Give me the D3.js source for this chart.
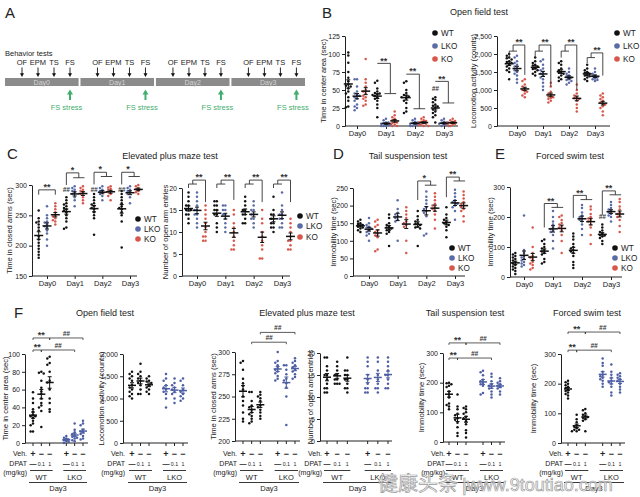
<!DOCTYPE html>
<html><head><meta charset="utf-8">
<script src="https://cdn.jsdelivr.net/npm/d3@7"></script>
<style>
body{margin:0;background:#fff}
svg{display:block;font-family:'Liberation Sans',Arial,sans-serif}
</style>
</head><body>
<svg width="640" height="497"></svg>
<script>
// ---------------- DATA ----------------
const days = ["Day0","Day1","Day2","Day3"];
const groups = ["WT","LKO","KO"];
const tests = ["OF","EPM","TS","FS"];

// B: Open field - time in center area (sec)
const ofCenterWT = [
 [102,98,88,75,67,62,58,56,55,52,48,45,40,35,27,26],
 [63,60,52,48,46,45,44,43,42,40,38,35,30,25,12],
 [62,60,50,46,43,42,41,40,38,35,32,25,20,18],
 [40,38,36,33,30,28,27,25,23,20,18,15,12,5]];
const ofCenterLKO = [
 [65,65,55,48,45,43,42,40,38,35,30,27,25,22],
 [10,8,5,5,4,3,2,2,1,0,0,0],
 [10,8,6,5,4,3,2,2,1,0,0],
 [10,8,6,5,4,3,2,1,0,0]];
const ofCenterKO = [
 [93,65,60,55,50,48,45,42,40,38,35,30,28],
 [20,15,12,10,8,6,5,4,3,2,0,0],
 [12,10,8,7,6,5,4,3,2,1,0,0],
 [10,8,7,6,5,4,3,2,1,0]];
const ofCenterTicks = [0,25,50,75,100,125];
const ofCenterSig = [
 {day:"Day1",type:"L",top:87,wtBottom:87,sub:45,label:"**"},
 {day:"Day2",type:"L",top:72,wtBottom:72,sub:24,label:"**"},
 {day:"Day3",type:"L",top:62,wtBottom:62,sub:32,label:"**"}];
const ofCenterHash = [{day:"Day3",group:"WT",v:52}];

// B: Open field - locomotion activity (counts)
const ofLocoWT = [
 [2000,1950,1900,1880,1850,1800,1780,1750,1700,1650,1600,1550,1500,1300],
 [1900,1800,1750,1700,1680,1650,1600,1580,1550,1500,1450,1400],
 [1800,1750,1700,1600,1550,1500,1480,1450,1400,1350,1300,1250],
 [1700,1600,1550,1500,1480,1450,1420,1400,1380,1350,1300,1250]];
const ofLocoLKO = [
 [1950,1900,1800,1750,1700,1650,1600,1550,1500,1450,1400,1300,1200],
 [1850,1800,1700,1600,1550,1500,1450,1400,1350,1300,1200,1100,1000],
 [1600,1500,1450,1400,1380,1350,1300,1280,1250,1200,1150],
 [1600,1500,1450,1400,1380,1350,1320,1300,1280,1250]];
const ofLocoKO = [
 [1300,1250,1150,1100,1050,1000,980,950,900,850,800],
 [1200,1100,950,900,850,820,800,780,750,700,650],
 [1150,1000,900,850,800,780,750,700,600,500,400],
 [900,850,800,750,700,650,620,600,550,500,400,300]];
const ofLocoTicks = [0,500,1000,1500,2000,2500];
const ofLocoSig = [
 {day:"Day0",type:"R",top:2250,sub:2080,wtBottom:1900,koBottom:1420,label:"**"},
 {day:"Day1",type:"R",top:2250,sub:2080,wtBottom:1900,koBottom:1100,label:"**"},
 {day:"Day2",type:"R",top:2250,sub:2080,wtBottom:1900,koBottom:1000,label:"**"},
 {day:"Day3",type:"R",top:2030,sub:1900,wtBottom:1750,koBottom:1400,label:"**"}];

// C: EPM - time in closed arms (sec)
const epmClosedWT = [
 [258,245,240,238,235,230,225,215,210,205,200,195,190,185,180],
 [280,275,270,268,265,262,260,258,255,250,245,240,230,228],
 [285,280,275,270,268,265,262,260,255,250,245,218],
 [290,285,280,275,270,265,262,260,255,250,240,197]];
const epmClosedLKO = [
 [265,250,245,240,238,235,232,230,225,220,210,200],
 [298,295,292,290,288,285,280,275,265],
 [298,295,292,290,288,285,282,275],
 [298,295,292,290,288,285,280,270]];
const epmClosedKO = [
 [270,265,260,255,250,248,245,242,240,235],
 [298,295,292,290,288,285,280,275,270],
 [298,296,294,292,290,288,285,282,275],
 [300,298,295,293,290,288,285]];
const epmClosedTicks = [150,200,250,300];
const epmClosedSig = [
 {day:"Day0",type:"S",a:"WT",b:"KO",top:292,bottom:284,label:"**"},
 {day:"Day1",type:"L",top:320,wtBottom:300,sub:312,label:"*"},
 {day:"Day2",type:"L",top:321,wtBottom:301,sub:314,label:"*"},
 {day:"Day3",type:"L",top:321,wtBottom:301,sub:314,label:"*"}];
const epmClosedHash = [{day:"Day1",group:"WT",v:293},{day:"Day2",group:"WT",v:293},{day:"Day3",group:"WT",v:293}];

// C: EPM - number of open arm entries
const epmEntriesWT = [
 [19,18,17,16,16,15,15,15,14,14,13,12],
 [17,17,16,16,15,15,14,14,12,11,10],
 [18,17,16,15,15,14,14,13,12,12],
 [18,15,14,14,13,13,12,12,11,11,10]];
const epmEntriesLKO = [
 [19,18,17,16,15,15,14,14,13,12,11],
 [16,16,15,15,14,14,13,12,11,10],
 [17,16,15,15,14,14,13,13,12,11],
 [19,16,15,14,14,13,13,12,11,11]];
const epmEntriesKO = [
 [16,15,14,13,12,11,10,9,9,8,8],
 [15,14,12,11,10,9,8,7,6,6],
 [15,13,12,10,9,8,7,6,4,4],
 [13,12,11,10,9,8,8,7,6,6]];
const epmEntriesTicks = [0,5,10,15,20];
const epmEntriesSig = [
 {day:"Day0",type:"R",top:21.8,sub:20.9,wtBottom:20,koBottom:16.8,label:"**"},
 {day:"Day1",type:"R",top:21.8,sub:20.9,wtBottom:20,koBottom:17.3,label:"**"},
 {day:"Day2",type:"R",top:21.8,sub:20.9,wtBottom:20,koBottom:16.8,label:"**"},
 {day:"Day3",type:"R",top:21.8,sub:20.9,wtBottom:20,koBottom:16.8,label:"**"}];

// D: Tail suspension - immobility time (sec)
const tsImmWT = [
 [160,155,150,148,145,142,140,138,135,130,125],
 [175,165,150,145,140,138,135,132,130,125,120,85],
 [185,170,160,155,150,148,145,140,138,135,85],
 [195,175,165,160,155,150,148,145,140,130,110]];
const tsImmLKO = [
 [165,150,145,140,138,135,130,125,120,115,100],
 [215,190,180,175,170,165,160,155,100],
 [240,225,215,205,195,190,185,180,170,120,115],
 [245,235,225,215,210,208,205,200,195,185,160]];
const tsImmKO = [
 [160,155,145,140,130,125,120,115,110,75,70],
 [195,185,175,165,155,150,145,140,100,65],
 [235,225,215,205,200,195,190,185,175,160,135],
 [240,230,220,210,205,200,195,190,185,170,155]];
const tsImmTicks = [0,50,100,150,200,250];
const tsImmSig = [
 {day:"Day2",type:"L",top:270,wtBottom:216,sub:258,label:"*"},
 {day:"Day3",type:"L",top:281,wtBottom:224,sub:270,label:"**"}];

// E: Forced swim - immobility time (sec)
const fsImmWT = [
 [80,75,70,65,60,55,50,45,40,35,30,25,20,10],
 [125,120,110,100,95,90,85,80,75,60,50,45],
 [145,135,125,110,100,95,90,85,80,70,50,40,30],
 [175,165,155,150,145,140,138,135,130,120,110]];
const fsImmLKO = [
 [205,90,80,70,65,60,55,50,45,40,35],
 [220,200,185,175,165,160,155,150,140,120,95],
 [240,230,215,205,200,195,190,185,175,160,140],
 [250,240,230,225,220,215,210,205,200,185]];
const fsImmKO = [
 [165,100,80,70,65,60,50,45,40,30,25],
 [205,200,190,180,175,170,165,155,140,120,80],
 [235,225,210,200,195,190,185,175,165,140,110],
 [260,250,235,225,215,210,205,200,190,170,150]];
const fsImmTicks = [0,100,200,300];
const fsImmSig = [
 {day:"Day1",type:"L",top:245,wtBottom:165,sub:232,label:"**"},
 {day:"Day2",type:"L",top:272,wtBottom:197,sub:258,label:"**"},
 {day:"Day3",type:"L",top:287,wtBottom:207,sub:274,label:"**"}];
const fsImmHash = [{day:"Day3",group:"WT",v:200}];

// F: Day3, DPAT treatment
const drugGroups = ["WT Veh","WT DPAT 0.1","WT DPAT 1","LKO Veh","LKO DPAT 0.1","LKO DPAT 1"];
const fGenotype = ["WT","WT","WT","LKO","LKO","LKO"];
const fVeh = ["+","−","−","+","−","−"];
const fDpat = ["—","0.1","1","—","0.1","1"];
const fOfCenter = [
 [57,50,45,38,35,32,30,30,28,25,22,20,13,13],
 [80,79,78,70,62,58,55,50,45,42,40,36,18],
 [97,95,90,88,80,70,68,60,50,45,38,35],
 [8,6,5,4,3,2,1,0],
 [22,15,12,10,8,7,6,5,3,2],
 [25,22,20,15,13,12,10,8,5,4]];
const fOfLoco = [
 [1600,1550,1500,1450,1400,1300,1250,1200,1150,1100,1050,1000],
 [1780,1600,1550,1500,1450,1400,1350,1300,1200,1100,1100],
 [1500,1450,1400,1380,1350,1300,1250,1200,1150,1100],
 [1550,1450,1400,1300,1250,1200,1150,1100,1000,800],
 [1450,1350,1300,1250,1200,1150,1100,1000,900],
 [1450,1400,1300,1200,1150,1100,1050,1000,950]];
const fEpmClosed = [
 [290,288,280,270,265,262,258,250,245,240,232,225,222],
 [255,255,245,240,238,235,232,230,228,225,222,220],
 [255,252,250,248,245,240,238,235,232,228,225],
 [300,290,288,285,282,280,278,276,273,270,268],
 [285,285,280,275,270,268,265,260,250,218],
 [293,290,288,285,283,280,278,275,272,270]];
const fEpmEntries = [
 [19,19,17,16,15,15,14,13,12,12,11,11],
 [18,17,16,15,15,14,14,13,13,13],
 [19,16,16,15,15,14,14,13,12,12,11],
 [19,18,17,15,14,13,12,12,11,11],
 [19,18,16,15,14,13,12,12,11],
 [19,18,17,16,15,15,14,13,12,12]];
const fTsImm = [
 [200,198,195,190,185,170,160,150,130,125,120,110],
 [160,120,110,95,90,80,75,65,50,30,20],
 [120,115,110,100,95,85,80,70,60,40,30,15],
 [240,235,225,210,205,200,195,190,165,160],
 [230,220,205,195,190,185,180,170,160,150],
 [215,205,200,195,190,185,180,170,160]];
const fFsImm = [
 [210,205,200,195,190,185,180,175,170,165,160,150],
 [95,80,70,60,55,50,45,45,40,40],
 [115,110,100,95,90,88,85,80,75,40],
 [285,270,260,240,230,225,220,215,210,200,190],
 [265,240,230,220,210,205,200,190,170,160],
 [235,230,225,220,215,210,200,190,180,170]];
const fOfCenterSig = [{a:0,b:2,v:118,label:"**"},{a:2,b:5,v:118,label:"##"},{a:0,b:1,v:104.5,label:"**"},{a:1,b:4,v:104.5,label:"##"}];
const fEpmClosedSig = [{a:2,b:5,v:322,label:"##"},{a:1,b:4,v:311,label:"##"}];
const fTsImmSig = [{a:0,b:2,v:334,label:"**"},{a:2,b:5,v:334,label:"##"},{a:0,b:1,v:283,label:"**"},{a:1,b:4,v:283,label:"##"}];
const fFsImmSig = [{a:0,b:2,v:374,label:"**"},{a:2,b:5,v:374,label:"##"},{a:0,b:1,v:313,label:"**"},{a:1,b:4,v:313,label:"##"}];

// ---------------- DRAWING ----------------
const svg = d3.select("svg");
const COL = {WT:"#111111", LKO:"#5b6ba6", KO:"#d6574c"};
const FCOL = {WT:"#111111", LKO:"#4d5ea3"};
const CJK = "'Noto Sans CJK SC',sans-serif";

function swarm(vals, y, cx, r){
  const sorted = vals.slice().sort((a,b)=>b-a);
  const placed = [];
  const offs = [0,-1,1,-2,2];
  sorted.forEach(v=>{
    const py = y(v);
    let best=null, bestOv=1e9;
    for(const k of offs){
      const px = cx + k*r*1.9;
      let ov = 0;
      placed.forEach(p=>{const d=Math.hypot(p[0]-px,p[1]-py); if(d<2*r*0.95) ov += (2*r-d);});
      if(ov===0){best=[px,py];break;}
      if(ov<bestOv){bestOv=ov;best=[px,py];}
    }
    placed.push(best);
  });
  return placed;
}
function meanSem(g, vals, y, cx, color, hw){
  const m = d3.mean(vals), s = d3.deviation(vals)/Math.sqrt(vals.length);
  g.append("line").attr("x1",cx-hw).attr("x2",cx+hw).attr("y1",y(m)).attr("y2",y(m)).attr("stroke",color).attr("stroke-width",1.5);
  g.append("line").attr("x1",cx).attr("x2",cx).attr("y1",y(m-s)).attr("y2",y(m+s)).attr("stroke",color).attr("stroke-width",1);
  [m-s,m+s].forEach(v=>g.append("line").attr("x1",cx-2).attr("x2",cx+2).attr("y1",y(v)).attr("y2",y(v)).attr("stroke",color).attr("stroke-width",1));
}
function styleAxis(a, fs){
  a.selectAll("text").attr("font-size",fs).attr("font-family","'Liberation Sans',Arial,sans-serif").attr("fill","#222");
  a.selectAll("line,path").attr("stroke","#222");
}
function yLabel(g, x, ymid, txt){
  g.append("text").attr("transform",`translate(${x},${ymid}) rotate(-90)`).attr("text-anchor","middle")
   .attr("dy","0.35em").attr("font-size",7.6).attr("fill","#222").text(txt);
}
function sigText(g, x, yv, label){
  const isHash = label.startsWith("#");
  g.append("text").attr("x",x).attr("y", isHash ? yv-1.2 : yv+1.2).attr("text-anchor","middle")
   .attr("font-size", isHash?6.5:9).attr("font-style",isHash?"italic":"normal").attr("font-weight","bold")
   .attr("fill","#333").text(label);
}

function dayChart(c){
  const g = svg.append("g");
  const x = d3.scalePoint().domain(days).range(c.xr);
  const step = x.step();
  const gx = d3.scalePoint().domain(groups).range([-0.3*step,0.3*step]);
  const y = d3.scaleLinear().domain(c.yd).range(c.yr);
  const ya = g.append("g").attr("transform",`translate(${c.ax},0)`)
    .call(d3.axisLeft(y).tickValues(c.ticks).tickSize(3).tickSizeOuter(0).tickPadding(2));
  styleAxis(ya,7);
  g.append("line").attr("x1",c.ax).attr("x2",c.axEnd).attr("y1",c.yr[0]).attr("y2",c.yr[0]).attr("stroke","#222");
  const xa = g.append("g").attr("transform",`translate(0,${c.yr[0]})`).call(d3.axisBottom(x).tickSize(3).tickPadding(2));
  xa.select(".domain").remove();
  styleAxis(xa,7.5);
  yLabel(g, c.lx, (c.yr[0]+c.yr[1])/2, c.ylabel);
  c.series.forEach((ser,gi)=>{
    const grp = groups[gi];
    days.forEach((d,di)=>{
      const cx = x(d)+gx(grp);
      swarm(ser[di], y, cx, 1.25).forEach(p=>{
        g.append("circle").attr("cx",p[0]).attr("cy",p[1]).attr("r",1.25).attr("fill",COL[grp]);
      });
    });
  });
  c.series.forEach((ser,gi)=>{
    const grp = groups[gi];
    days.forEach((d,di)=> meanSem(g, ser[di], y, x(d)+gx(grp), "#111", 4.5));
  });
  (c.sig||[]).forEach(s=>{
    const cx = x(s.day);
    const xW=cx+gx("WT"), xL=cx+gx("LKO"), xK=cx+gx("KO");
    let d, lx;
    if(s.type==="L"){
      const xm=(xL+xK)/2;
      d=`M${xW},${y(s.wtBottom)}V${y(s.top)}H${xm}V${y(s.sub)}M${xL-1.5},${y(s.sub)}H${xK+1.5}`;
      lx=(xW+xm)/2;
    } else if(s.type==="R"){
      const xm=(xW+xL)/2;
      d=`M${xW},${y(s.wtBottom)}V${y(s.sub)}H${xL}M${xm},${y(s.sub)}V${y(s.top)}H${xK}V${y(s.koBottom)}`;
      lx=(xm+xK)/2;
    } else {
      const xa2=cx+gx(s.a), xb=cx+gx(s.b);
      d=`M${xa2},${y(s.bottom)}V${y(s.top)}H${xb}V${y(s.bottom)}`;
      lx=(xa2+xb)/2;
    }
    g.append("path").attr("d",d).attr("fill","none").attr("stroke","#333").attr("stroke-width",0.9);
    sigText(g, lx, y(s.top)-1, s.label);
  });
  (c.hash||[]).forEach(h=>{
    sigText(g, x(h.day)+gx(h.group), y(h.v)+3.5, "##");
  });
  groups.forEach((grp,i)=>{
    g.append("circle").attr("cx",c.leg[0]).attr("cy",c.leg[1][i]).attr("r",2.8).attr("fill",COL[grp]);
    g.append("text").attr("x",c.leg[0]+6).attr("y",c.leg[1][i]+2.9).attr("font-size",8.2).attr("fill","#222").text(grp);
  });
}

function drugChart(c){
  const g = svg.append("g");
  const x = d3.scalePoint().domain(d3.range(7)).range(c.xr);
  const slot = i => i<3 ? i : i+1;
  const y = d3.scaleLinear().domain(c.yd).range(c.yr);
  const ya = g.append("g").attr("transform",`translate(${c.ax},0)`)
    .call(d3.axisLeft(y).tickValues(c.ticks).tickSize(3).tickSizeOuter(0).tickPadding(2));
  styleAxis(ya,7);
  g.append("line").attr("x1",c.ax).attr("x2",c.axEnd).attr("y1",c.yr[0]).attr("y2",c.yr[0]).attr("stroke","#222");
  drugGroups.forEach((dg,i)=>{
    g.append("line").attr("x1",x(slot(i))).attr("x2",x(slot(i))).attr("y1",c.yr[0]).attr("y2",c.yr[0]+3).attr("stroke","#222");
  });
  yLabel(g, c.lx, (c.yr[0]+c.yr[1])/2, c.ylabel);
  c.series.forEach((vals,i)=>{
    const col = FCOL[fGenotype[i]];
    const cx = x(slot(i));
    swarm(vals, y, cx, 1.25).forEach(p=>{
      g.append("circle").attr("cx",p[0]).attr("cy",p[1]).attr("r",1.25).attr("fill",col);
    });
  });
  c.series.forEach((vals,i)=> meanSem(g, vals, y, x(slot(i)), FCOL[fGenotype[i]], 4));
  (c.sig||[]).forEach(s=>{
    const xa2=x(slot(s.a)), xb=x(slot(s.b)), yy=y(s.v);
    g.append("path").attr("d",`M${xa2},${yy+2}V${yy}H${xb}V${yy+2}`).attr("fill","none").attr("stroke","#333").attr("stroke-width",0.8);
    sigText(g,(xa2+xb)/2, yy-1, s.label);
  });
  const lxr = c.ax+2;
  const rows = [["Veh.",456],["DPAT",466],["(mg/kg)",475]];
  rows.forEach(r=>g.append("text").attr("x",lxr).attr("y",r[1]).attr("text-anchor","end").attr("font-size",7).attr("fill","#222").text(r[0]));
  drugGroups.forEach((dg,i)=>{
    const cx=x(slot(i));
    g.append("text").attr("x",cx).attr("y",456.5).attr("text-anchor","middle").attr("font-size",9).attr("font-weight","bold").attr("fill","#222").text(fVeh[i]);
    const isDash = fDpat[i]==="—";
    g.append("text").attr("x",cx).attr("y",465.5).attr("text-anchor","middle").attr("font-size",isDash?7:5.3).attr("font-weight",isDash?"bold":"normal").attr("fill","#222").text(fDpat[i]);
  });
  ["WT","LKO"].forEach((gn,k)=>{
    const a = x(slot(k*3))-3, b = x(slot(k*3+2))+3;
    g.append("line").attr("x1",a).attr("x2",b).attr("y1",470.5).attr("y2",470.5).attr("stroke","#222").attr("stroke-width",0.9);
    g.append("text").attr("x",(a+b)/2).attr("y",479.5).attr("text-anchor","middle").attr("font-size",7.5).attr("fill","#222").text(gn);
  });
  const a0=x(0)-4, a1=x(6)+4;
  g.append("line").attr("x1",a0).attr("x2",a1).attr("y1",482.5).attr("y2",482.5).attr("stroke","#222").attr("stroke-width",0.9);
  g.append("text").attr("x",(a0+a1)/2).attr("y",490.5).attr("text-anchor","middle").attr("font-size",7.5).attr("fill","#222").text("Day3");
}

function txt(x,y,s,size,opts={}){
  const t=svg.append("text").attr("x",x).attr("y",y).attr("font-size",size).attr("fill",opts.fill||"#222")
    .attr("text-anchor",opts.anchor||"start").text(s);
  if(opts.weight) t.attr("font-weight",opts.weight);
  return t;
}

// ----- Panel A -----
txt(5,18,"A",15);
txt(5,55.5,"Behavior tests",7.5);
const segX = d3.scaleBand().domain(days).range([5,305]).paddingInner(0.025);
days.forEach(d=>{
  const x0 = segX(d), w = segX.bandwidth();
  svg.append("rect").attr("x",x0).attr("y",78).attr("width",w).attr("height",8).attr("fill","#8b8b8b");
  txt(x0+w/2,84.6,d,7,{anchor:"middle",fill:"#d4d4d4"});
  const tx = d3.scalePoint().domain(tests).range([x0+17,x0+65]);
  tests.forEach(t=>{
    const cx = tx(t);
    txt(cx,65,t,7.5,{anchor:"middle"});
    svg.append("line").attr("x1",cx).attr("x2",cx).attr("y1",67.5).attr("y2",74).attr("stroke","#111").attr("stroke-width",0.9);
    svg.append("path").attr("d",`M${cx-2},73.2L${cx+2},73.2L${cx},77Z`).attr("fill","#111");
  });
  const fx = tx("FS");
  svg.append("line").attr("x1",fx).attr("x2",fx).attr("y1",100).attr("y2",93.5).attr("stroke","#3fae6e").attr("stroke-width",2);
  svg.append("path").attr("d",`M${fx-3},94.5L${fx+3},94.5L${fx},89.5Z`).attr("fill","#3fae6e");
  txt(fx-3.5,110,"FS stress",7.5,{anchor:"middle",fill:"#3fae6e"});
});

// ----- Panel B -----
txt(322,17.5,"B",15);
txt(479,15,"Open field test",9,{anchor:"middle"});
dayChart({ax:345,axEnd:458,xr:[357,444],yd:[0,125],yr:[126,36],ticks:ofCenterTicks,lx:323,
  ylabel:"Time in center area (sec)",series:[ofCenterWT,ofCenterLKO,ofCenterKO],sig:ofCenterSig,hash:ofCenterHash,
  leg:[435,[33,46,59]]});
dayChart({ax:497,axEnd:610,xr:[517,595],yd:[0,2500],yr:[126,36],ticks:ofLocoTicks,lx:473,
  ylabel:"Locomotion activity (counts)",series:[ofLocoWT,ofLocoLKO,ofLocoKO],sig:ofLocoSig,
  leg:[617,[33,46,59]]});

// ----- Panel C -----
txt(7,158.5,"C",15);
txt(170,158.5,"Elevated plus maze test",9,{anchor:"middle"});
dayChart({ax:32,axEnd:137,xr:[47,130],yd:[150,300],yr:[276,185],ticks:epmClosedTicks,lx:9,
  ylabel:"Time in closed arms (sec)",series:[epmClosedWT,epmClosedLKO,epmClosedKO],sig:epmClosedSig,hash:epmClosedHash,
  leg:[138,[219,229,239]]});
dayChart({ax:182,axEnd:290,xr:[197,282],yd:[0,20],yr:[276,188],ticks:epmEntriesTicks,lx:165,
  ylabel:"Number of open arm entries",series:[epmEntriesWT,epmEntriesLKO,epmEntriesKO],sig:epmEntriesSig,
  leg:[300,[216,226,237]]});

// ----- Panel D -----
txt(333,158.5,"D",15);
txt(408,159,"Tail suspension test",9,{anchor:"middle"});
dayChart({ax:353,axEnd:465,xr:[369,455],yd:[0,250],yr:[276,188],ticks:tsImmTicks,lx:333,
  ylabel:"Immobility time (sec)",series:[tsImmWT,tsImmLKO,tsImmKO],sig:tsImmSig,
  leg:[452,[248,258,268]]});

// ----- Panel E -----
txt(495,158.5,"E",15);
txt(570,159,"Forced swim test",9,{anchor:"middle"});
dayChart({ax:510,axEnd:622,xr:[524,611],yd:[0,300],yr:[277,187],ticks:fsImmTicks,lx:490,
  ylabel:"Immobility time (sec)",series:[fsImmWT,fsImmLKO,fsImmKO],sig:fsImmSig,hash:fsImmHash,
  leg:[615,[248,258,268]]});

// ----- Panel F -----
txt(14,317.5,"F",15);
txt(105,316,"Open field test",9,{anchor:"middle"});
txt(307,316,"Elevated plus maze test",9,{anchor:"middle"});
txt(465,316,"Tail suspension test",9,{anchor:"middle"});
txt(587,316,"Forced swim test",9,{anchor:"middle"});
drugChart({ax:25,axEnd:88,xr:[33,83],yd:[0,100],yr:[443,354],ticks:[0,20,40,60,80,100],lx:5,
  ylabel:"Time in center area (sec)",series:fOfCenter,sig:fOfCenterSig});
drugChart({ax:123,axEnd:188,xr:[132,183],yd:[0,2000],yr:[443,354],ticks:[0,500,1000,1500,2000],lx:101,
  ylabel:"Locomotion activity (counts)",series:fOfLoco});
drugChart({ax:235,axEnd:300,xr:[243,295],yd:[200,300],yr:[441,352],ticks:[200,225,250,275,300],lx:213,
  ylabel:"Time in closed arms (sec)",series:fEpmClosed,sig:fEpmClosedSig});
drugChart({ax:320,axEnd:392,xr:[327,388],yd:[0,20],yr:[441,353],ticks:[0,5,10,15,20],lx:310,
  ylabel:"Number of open arm entries",series:fEpmEntries});
drugChart({ax:443,axEnd:505,xr:[449,500],yd:[0,300],yr:[442,353],ticks:[0,100,200,300],lx:421,
  ylabel:"Immobility time (sec)",series:fTsImm,sig:fTsImmSig});
drugChart({ax:561,axEnd:625,xr:[568,620],yd:[0,300],yr:[443,354],ticks:[0,100,200,300],lx:533,
  ylabel:"Immobility time (sec)",series:fFsImm,sig:fFsImmSig});

// watermark (part of the reference picture)
svg.append("text").attr("x",378).attr("y",491).attr("font-size",20).attr("font-family",CJK)
  .attr("fill","#fff").attr("fill-opacity",0.75).attr("stroke","#9a9a9a").attr("stroke-width",0.7).text("健康头条");
svg.append("text").attr("x",462).attr("y",491).attr("font-size",18).attr("font-family","'Liberation Sans',Arial,sans-serif")
  .attr("fill","#fff").attr("fill-opacity",0.75).attr("stroke","#9a9a9a").attr("stroke-width",0.7).text("|www.9toutiao.com");
</script>
</body></html>
